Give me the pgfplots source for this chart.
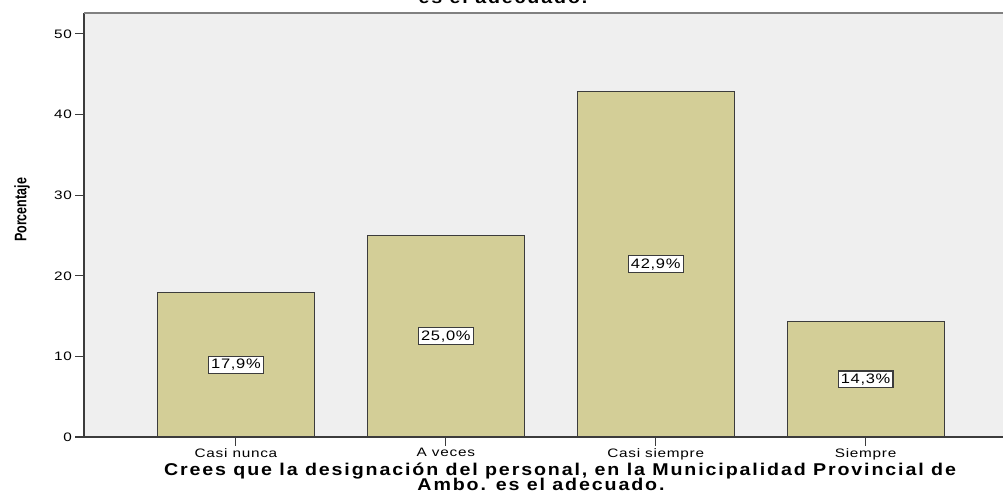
\documentclass[border=0pt]{standalone}
\usepackage{pgfplots}
\pgfplotsset{compat=1.18}
\usepackage{fontspec}
\setmainfont{Liberation Sans}
\newfontfamily\titlefont[FakeStretch=1.15, LetterSpace=11]{Liberation Sans}
\newfontfamily\tickfont[FakeStretch=1.25, LetterSpace=6]{Liberation Sans}
\newfontfamily\labfont[FakeStretch=1.2, LetterSpace=5]{Liberation Sans}
\newfontfamily\narrowfont{Liberation Sans}
\definecolor{barfill}{RGB}{211,206,151}
\definecolor{bgray}{RGB}{239,239,239}
\definecolor{edge}{RGB}{60,60,60}
\begin{document}
\begin{tikzpicture}
\path[use as bounding box] (0,0) rectangle (752.25pt,377.25pt);
\begin{axis}[
  at={(63pt,49.5pt)}, anchor=south west,
  scale only axis,
  width=694.5pt, height=318pt,
  xmin=0.276, xmax=4.688,
  ymin=0, ymax=52.6,
  axis background/.style={fill=bgray},
  axis line style={edge, line width=0.9pt},
  separate axis lines,
  axis x line*=bottom,
  axis y line*=left,
  xtick={1,2,3,4},
  xticklabels={Casi nunca, A veces, Casi siempre, Siempre},
  ytick={0,10,20,30,40,50},
  tick align=outside,
  major tick length=6.5pt,
  tick style={edge, line width=0.8pt},
  ticklabel style={font=\tickfont\fontsize{9.2pt}{10pt}\selectfont},
  /pgf/number format/assume math mode=true,
  xticklabel style={yshift=1.5pt},
  yticklabel style={xshift=1pt},
  clip=false,
]
\draw[gray, line width=1.2pt] (axis cs:0.276,52.6) -- (axis cs:4.688,52.6);
\addplot[ybar, bar width=117.75pt, fill=barfill, draw=edge, line width=0.9pt]
  coordinates {(1,17.9) (2,25.0) (3,42.9) (4,14.3)};
\addplot[only marks, mark=none, nodes near coords, point meta=explicit symbolic,
  every node near coord/.append style={anchor=center, fill=white, draw=edge, line width=0.8pt, inner xsep=2pt, inner ysep=2pt, font=\labfont\fontsize{10.3pt}{11pt}\selectfont}]
  coordinates {(1,8.95) [17,9\%] (2,12.5) [25,0\%] (3,21.45) [42,9\%] (4,7.15) [14,3\%]};
\end{axis}
\node[rotate=90, anchor=center, inner sep=0pt] at (16.5pt,219.75pt)
  {\scalebox{0.75}[1]{\narrowfont\bfseries\fontsize{12.5pt}{13pt}\selectfont Porcentaje}};
\node[anchor=south, inner sep=0pt, align=center, font=\titlefont\bfseries\fontsize{12.8pt}{10pt}\selectfont] at (377.25pt,374.25pt)
  {Crees que la designación del personal, en la Municipalidad Provincial de Ambo.\\es el adecuado.};
\node[anchor=base, inner sep=0pt, font=\titlefont\bfseries\fontsize{12.8pt}{10pt}\selectfont] at (420pt,20.25pt)
  {Crees que la designación del personal, en la Municipalidad Provincial de};
\node[anchor=base, inner sep=0pt, font=\titlefont\bfseries\fontsize{12.8pt}{10pt}\selectfont] at (405.75pt,9.5pt)
  {Ambo. es el adecuado.};
\end{tikzpicture}
\end{document}
